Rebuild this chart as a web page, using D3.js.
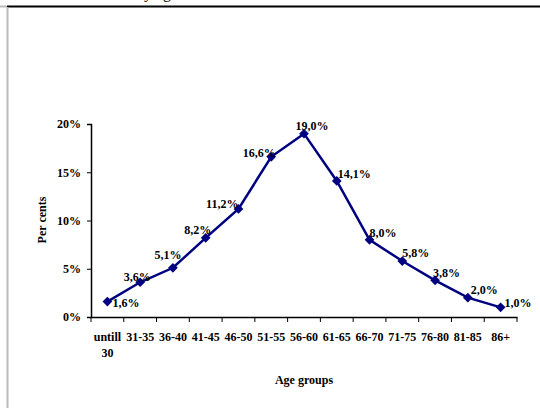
<!DOCTYPE html>
<html><head><meta charset="utf-8">
<script src="https://cdn.jsdelivr.net/npm/d3@7"></script>
<style>body{margin:0;background:#fff;}svg{display:block;font-family:"Liberation Serif","Times New Roman",serif;}</style>
</head><body>
<script>
const categories = ["untill 30","31-35","36-40","41-45","46-50","51-55","56-60","61-65","66-70","71-75","76-80","81-85","86+"];
const values = [1.6,3.6,5.1,8.2,11.2,16.6,19.0,14.1,8.0,5.8,3.8,2.0,1.0];
const yTicks = [0,5,10,15,20];
const valueLabels = ["1,6%","3,6%","5,1%","8,2%","11,2%","16,6%","19,0%","14,1%","8,0%","5,8%","3,8%","2,0%","1,0%"];
// label placement (layout only): anchor, dx, dy relative to marker
const labelPlacement = [["start",5,5],["middle",-3,-1],["middle",-5,-9],["middle",-8,-4],["end",0,-1],["middle",-12,0],["middle",8,-4],["start",1,-3],["start",0,-3],["start",0,-4],["start",-2,-3],["start",3,-4],["start",4,0]];

const W=540,H=409;
const svg=d3.select("body").append("svg").attr("width",W).attr("height",H);
// page remnants
svg.append("text").attr("x",8).attr("y",-2).attr("font-size",16).text("Picture 2. Structure by age");
svg.append("line").attr("x1",7).attr("x2",540).attr("y1",6.5).attr("y2",6.5).attr("stroke","#000").attr("stroke-width",2);
svg.append("line").attr("x1",0).attr("x2",7).attr("y1",6.5).attr("y2",6.5).attr("stroke","#bbb").attr("stroke-width",2);
svg.append("line").attr("x1",7.5).attr("x2",7.5).attr("y1",7).attr("y2",408).attr("stroke","#bbb").attr("stroke-width",2);

const x=d3.scaleBand().domain(categories).range([91,517]);
const y=d3.scaleLinear().domain([0,20]).range([317,124]);

const yAxis=svg.append("g").attr("transform","translate(91,0)")
  .call(d3.axisLeft(y).tickValues(yTicks).tickFormat(d=>d+"%").tickSize(4).tickPadding(6));
const xAxis=svg.append("g").attr("transform","translate(0,317)")
  .call(d3.axisBottom(x).tickSize(0).tickFormat(""));
[yAxis,xAxis].forEach(g=>{g.select(".domain").attr("stroke","#000").attr("stroke-width",1.5);});
yAxis.selectAll("text").attr("font-size",12).attr("font-weight","bold").attr("font-family","Liberation Serif").attr("fill","#000");
yAxis.selectAll("line").attr("stroke","#000");
const bounds=categories.map(c=>x(c)).concat([x(categories[categories.length-1])+x.bandwidth()]);
svg.append("g").selectAll("line").data(bounds).join("line")
  .attr("x1",d=>d).attr("x2",d=>d).attr("y1",317).attr("y2",322).attr("stroke","#000");
const xl=svg.append("g").attr("font-size",12).attr("font-weight","bold").attr("text-anchor","middle");
categories.forEach(c=>{
  const parts=c.split(" ");
  const t=xl.append("text").attr("x",x(c)+x.bandwidth()/2).attr("y",341);
  parts.forEach((p,i)=>t.append("tspan").attr("x",x(c)+x.bandwidth()/2).attr("dy",i?16:0).text(p));
});
svg.append("text").attr("x",304).attr("y",384).attr("text-anchor","middle").attr("font-size",12).attr("font-weight","bold").text("Age groups");
svg.append("text").attr("transform","translate(46,220) rotate(-90)").attr("text-anchor","middle").attr("font-size",12).attr("font-weight","bold").text("Per cents");

const cx=(d,i)=>x(categories[i])+x.bandwidth()/2;
svg.append("path").datum(values).attr("fill","none").attr("stroke","#000080").attr("stroke-width",2.5)
  .attr("d",d3.line().x(cx).y(d=>y(d)));
svg.append("g").selectAll("path").data(values).join("path")
  .attr("d",d3.symbol(d3.symbolDiamond2,60))
  .attr("transform",(d,i)=>`translate(${cx(d,i)},${y(d)})`)
  .attr("fill","#000080");
svg.append("g").attr("font-size",12).attr("font-weight","bold").selectAll("text").data(values).join("text")
  .attr("x",(d,i)=>cx(d,i)+labelPlacement[i][1])
  .attr("y",(d,i)=>y(d)+labelPlacement[i][2])
  .attr("text-anchor",(d,i)=>labelPlacement[i][0])
  .text((d,i)=>valueLabels[i]);
</script>
</body></html>
